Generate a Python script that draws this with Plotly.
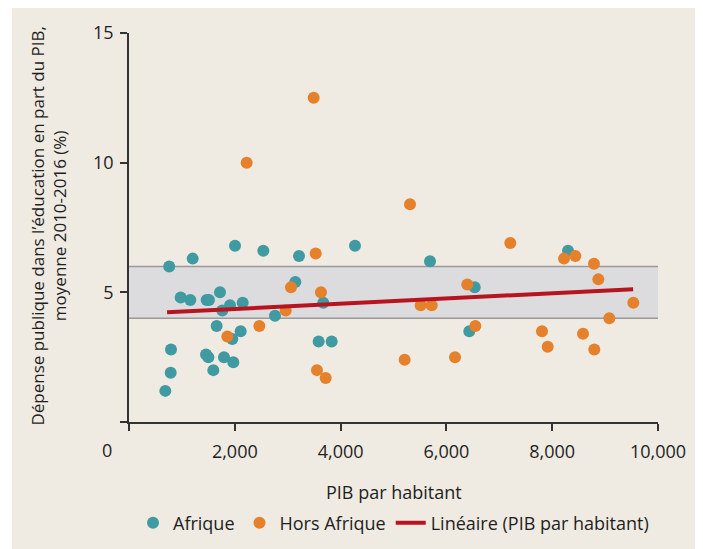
import plotly.graph_objects as go

# Afrique (teal points)
afr_x = [760, 1204, 2004, 2539, 3214, 4272, 977, 1159, 1468, 1512, 1720, 1764,
         1909, 2149, 3144, 3673, 2760, 1657, 2111, 1953, 794, 1456, 1500, 1796,
         1972, 1594, 788, 687, 3585, 3831, 5690, 8299, 6535, 6433]
afr_y = [6.0, 6.3, 6.8, 6.6, 6.4, 6.8, 4.8, 4.7, 4.7, 4.7, 5.0, 4.3,
         4.5, 4.6, 5.4, 4.6, 4.1, 3.7, 3.5, 3.2, 2.8, 2.6, 2.5, 2.5,
         2.3, 2.0, 1.9, 1.2, 3.1, 3.1, 6.2, 6.6, 5.2, 3.5]

# Hors Afrique (orange points)
hors_x = [3491, 2224, 3529, 3062, 3629, 2962, 2464, 1859, 3553, 3718,
          5312, 7208, 8223, 8437, 8790, 8872, 6395, 5514, 5722, 9534,
          9080, 6547, 7807, 8582, 7915, 8796, 5211, 6163]
hors_y = [12.5, 10.0, 6.5, 5.2, 5.0, 4.3, 3.7, 3.3, 2.0, 1.7,
          8.4, 6.9, 6.3, 6.4, 6.1, 5.5, 5.3, 4.5, 4.5, 4.6,
          4.0, 3.7, 3.5, 3.4, 2.9, 2.8, 2.4, 2.5]

# trend line ends
fit_x = [720, 9530]
fit_y = [4.23, 5.12]

band_lo, band_hi = 4, 6

x_ticks = [0, 2000, 4000, 6000, 8000, 10000]
x_text = ["", "2,000", "4,000", "6,000", "8,000", "10,000"]
y_ticks = [0, 5, 10, 15]
y_text = ["", "5", "10", "15"]

BG = "#efebe2"
TEAL = "#3f9aa2"
ORANGE = "#e5802b"
RED = "#b8141f"
FONT = "Open Sans"
INK = "#1e1e1e"

# page body adds 8px margin, so the figure is 8px smaller
W, H = 695, 541
L, R, T, B = 121, 45, 25, 127
pw, ph = W - L - R, H - T - B

fig = go.Figure()

fig.add_trace(go.Scatter(
    x=afr_x, y=afr_y, mode="markers", name="Afrique",
    marker=dict(color=TEAL, size=12),
))
fig.add_trace(go.Scatter(
    x=hors_x, y=hors_y, mode="markers", name="Hors Afrique",
    marker=dict(color=ORANGE, size=12),
))
fig.add_trace(go.Scatter(
    x=fit_x, y=fit_y, mode="lines", name="Linéaire (PIB par habitant)",
    line=dict(color=RED, width=4),
))

# beige panel, white strip on the left
fig.add_shape(type="rect", xref="paper", yref="paper",
              x0=(4 - L) / pw, x1=(W - L) / pw,
              y0=-B / ph, y1=1 + T / ph,
              fillcolor=BG, line=dict(width=0), layer="below")

# grey band 4-6 %
fig.add_shape(type="rect", xref="x", yref="y", x0=0, x1=10000,
              y0=band_lo, y1=band_hi, fillcolor="#dcdcde",
              line=dict(width=0), layer="below")
for yy in (band_lo, band_hi):
    fig.add_shape(type="line", xref="x", yref="y", x0=0, x1=10000,
                  y0=yy, y1=yy, line=dict(color="#9a9a9a", width=1.5),
                  layer="below")

fig.update_xaxes(
    range=[0, 10000], tickvals=x_ticks, ticktext=x_text,
    showgrid=False, zeroline=False, showline=True, linecolor="#333",
    linewidth=1.5, ticks="outside", ticklen=7, tickcolor="#333",
    tickwidth=1.5, ticklabelstandoff=6,
    tickfont=dict(size=18, color=INK),
)
fig.update_yaxes(
    range=[0, 15], tickvals=y_ticks, ticktext=y_text,
    showgrid=False, zeroline=False, showline=True, linecolor="#333",
    linewidth=1.5, ticks="outside", ticklen=7, tickcolor="#333",
    tickwidth=1.5, ticklabelstandoff=3,
    tickfont=dict(size=18, color=INK),
)

fig.add_annotation(
    text="Dépense publique dans l’éducation en part du PIB,<br>moyenne 2010-2016 (%)",
    xref="paper", yref="paper", x=-0.153, y=0.505, textangle=-90,
    xanchor="center", yanchor="middle", showarrow=False,
    font=dict(size=17, color=INK),
)
fig.add_annotation(
    text="PIB par habitant", xref="paper", yref="paper", x=0.5, y=-0.18,
    xanchor="center", yanchor="middle", showarrow=False,
    font=dict(size=18, color=INK),
)
fig.add_annotation(
    text="0", xref="paper", yref="paper", x=-0.0416, y=-0.072,
    xanchor="center", yanchor="middle", showarrow=False,
    font=dict(size=18, color=INK),
)

fig.update_layout(
    width=W, height=H,
    margin=dict(l=L, r=R, t=T, b=B, autoexpand=False),
    paper_bgcolor="white", plot_bgcolor=BG,
    font=dict(family=FONT, size=18, color=INK),
    legend=dict(orientation="h", x=0.5, xanchor="center",
                yref="container", y=0.048, yanchor="middle",
                font=dict(size=18), itemwidth=30,
                bgcolor="rgba(0,0,0,0)"),
)

fig.write_html("out.html")
